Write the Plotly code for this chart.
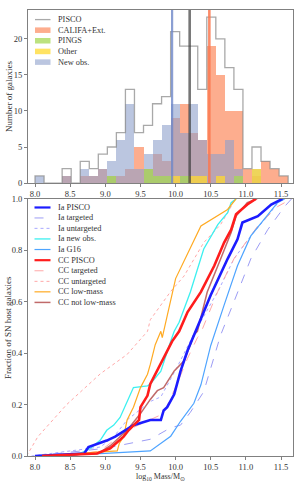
import plotly.graph_objects as go

# ---------------- data: top histogram ----------------
BIN_START = 8.0
BIN_WIDTH = 0.1286
pisco   = [1, 0, 0, 2, 0, 3, 2, 4, 5, 7, 13, 7, 8, 11, 12, 21, 19, 19, 13, 23, 20, 16, 13, 2, 5, 3, 2, 1]
califa  = [0, 0, 0, 1, 0, 1, 1, 2, 1, 1, 2, 5, 2, 4, 3, 9, 11, 7, 6, 19, 15, 10, 10, 2, 1, 3, 2, 1]
new_obs = [1, 0, 0, 1, 0, 2, 1, 2, 3, 6, 11, 2, 4, 6, 8, 11, 7, 11, 6, 4, 4, 6, 2, 0, 2, 0, 0, 0]
pings   = [0, 0, 0, 0, 0, 0, 0, 0, 1, 0, 0, 0, 2, 1, 1, 0, 1, 0, 0, 0, 0, 0, 1, 0, 0, 0, 0, 0]
other   = [0, 0, 0, 0, 0, 0, 0, 0, 0, 0, 0, 0, 0, 0, 0, 1, 0, 1, 1, 0, 1, 0, 0, 0, 2, 0, 0, 0]
median_new_obs = 9.95
median_pisco = 10.2
median_califa = 10.48

# ---------------- data: bottom cumulative curves ----------------
ia_pisco_x = [8.0, 8.7, 8.76, 8.93, 9.02, 9.14, 9.29, 9.40, 9.64, 9.79, 9.83, 9.88, 9.98, 10.07, 10.17, 10.29, 10.40, 10.5, 10.62, 10.74, 10.88, 10.95, 11.17, 11.36, 11.52]
ia_pisco_y = [0.0, 0.01, 0.035, 0.05, 0.06, 0.075, 0.1, 0.12, 0.14, 0.14, 0.177, 0.19, 0.24, 0.33, 0.41, 0.485, 0.56, 0.626, 0.70, 0.767, 0.843, 0.908, 0.933, 0.978, 1.0]
ia_targeted_x = [8.0, 9.0, 9.64, 9.93, 10.07, 10.21, 10.40, 10.64, 10.83, 11.07, 11.31, 11.55, 11.65]
ia_targeted_y = [0.0, 0.03, 0.065, 0.11, 0.12, 0.17, 0.25, 0.47, 0.6, 0.767, 0.88, 0.97, 1.0]
ia_untargeted_x = [7.95, 8.21, 8.93, 9.12, 9.31, 9.64, 9.79, 10.02, 10.27, 10.62, 10.83, 11.07, 11.31, 11.5]
ia_untargeted_y = [0.0, 0.01, 0.035, 0.075, 0.14, 0.212, 0.23, 0.345, 0.48, 0.65, 0.767, 0.856, 0.933, 1.0]
ia_new_x = [8.0, 8.6, 8.79, 8.93, 9.02, 9.12, 9.21, 9.31, 9.40, 9.6, 9.64, 9.79, 9.88, 9.93, 9.98, 10.05, 10.21, 10.40, 10.60, 10.74, 10.79, 10.86]
ia_new_y = [0.0, 0.005, 0.03, 0.062, 0.1, 0.12, 0.15, 0.215, 0.266, 0.273, 0.28, 0.33, 0.41, 0.446, 0.485, 0.52, 0.638, 0.805, 0.9, 0.946, 0.985, 1.0]
ia_g16_x = [8.0, 9.0, 9.64, 9.93, 10.07, 10.26, 10.36, 10.5, 10.69, 10.88, 11.07, 11.26, 11.45, 11.55]
ia_g16_y = [0.0, 0.01, 0.02, 0.077, 0.135, 0.205, 0.277, 0.43, 0.587, 0.74, 0.856, 0.92, 0.985, 1.0]
cc_pisco_x = [8.1, 8.88, 9.07, 9.26, 9.33, 9.40, 9.48, 9.50, 9.60, 9.64, 9.71, 9.79, 9.88, 9.95, 10.05, 10.17, 10.36, 10.55, 10.69, 10.79, 10.86, 11.02, 11.14]
cc_pisco_y = [0.0, 0.01, 0.03, 0.075, 0.1, 0.12, 0.14, 0.19, 0.235, 0.28, 0.318, 0.356, 0.408, 0.446, 0.485, 0.56, 0.638, 0.74, 0.83, 0.88, 0.94, 0.978, 1.0]
cc_targeted_x = [8.5, 8.93, 9.31, 9.64, 9.83, 10.02, 10.17, 10.31, 10.36, 10.6, 10.83, 11.17, 11.45, 11.65]
cc_targeted_y = [0.0, 0.02, 0.1, 0.14, 0.165, 0.28, 0.38, 0.46, 0.48, 0.64, 0.767, 0.895, 0.97, 1.0]
cc_untargeted_x = [7.88, 8.04, 8.45, 8.93, 9.31, 9.6, 9.64, 9.93, 10.12, 10.4, 10.64, 10.79, 10.83]
cc_untargeted_y = [0.0, 0.075, 0.2, 0.32, 0.395, 0.485, 0.53, 0.64, 0.70, 0.83, 0.9, 0.97, 1.0]
cc_low_x = [8.0, 9.17, 9.2, 9.26, 9.31, 9.40, 9.5, 9.6, 9.64, 9.71, 9.79, 9.81, 10.0, 10.36, 10.74, 10.86]
cc_low_y = [0.0, 0.02, 0.05, 0.075, 0.14, 0.19, 0.266, 0.318, 0.356, 0.433, 0.485, 0.46, 0.69, 0.895, 0.959, 1.0]
cc_notlow_x = [8.1, 8.9, 9.07, 9.31, 9.5, 9.64, 9.74, 9.83, 9.98, 10.12, 10.21, 10.26, 10.31, 10.45, 10.64, 10.79, 10.86, 11.02, 11.16]
cc_notlow_y = [0.0, 0.01, 0.04, 0.1, 0.165, 0.22, 0.254, 0.266, 0.331, 0.37, 0.433, 0.472, 0.485, 0.638, 0.766, 0.869, 0.933, 0.985, 1.0]

x_ticks = [8.0, 8.5, 9.0, 9.5, 10.0, 10.5, 11.0, 11.5]

# ---------------- figure ----------------
W, H = 299, 483
ML, MR, MT, MB = 28, 6, 5, 27
FONT = "Liberation Serif"
AXC = "#808080"

def px2paper_x(px):
    return (px - ML) / (W - ML - MR)

def py2paper_y(py):
    return (H - MB - py) / (H - MT - MB)

fig = go.Figure()

nb = len(pisco)
centers = [BIN_START + BIN_WIDTH * (k + 0.5) for k in range(nb)]
edges = [BIN_START + BIN_WIDTH * k for k in range(nb + 1)]

hist_series = [
    ("CALIFA+Ext.", califa, "rgba(252,141,98,0.72)"),
    ("New obs.", new_obs, "rgba(141,160,203,0.6)"),
    ("PINGS", pings, "rgba(166,216,84,0.75)"),
    ("Other", other, "rgba(255,217,47,0.75)"),
]
for name, vals, col in hist_series:
    fig.add_trace(go.Bar(x=centers, y=vals, width=BIN_WIDTH, marker=dict(color=col, line=dict(width=0)),
                         name=name, xaxis="x", yaxis="y", showlegend=False))

step_x = [edges[0]] + edges[:-1] + [edges[-1]]
step_y = [0] + pisco + [0]
fig.add_trace(go.Scatter(x=step_x, y=step_y, mode="lines", line=dict(color="rgba(140,140,140,0.75)", width=1.3, shape="hv"),
                         name="PISCO", xaxis="x", yaxis="y", showlegend=False))

for xm, col, w in [(median_new_obs, "rgba(110,135,200,0.8)", 2.2), (median_pisco, "rgba(60,60,60,0.7)", 2.6),
                   (median_califa, "rgba(250,120,80,0.85)", 2.6)]:
    fig.add_trace(go.Scatter(x=[xm, xm], y=[0, 24], mode="lines", line=dict(color=col, width=w),
                             xaxis="x", yaxis="y", showlegend=False, hoverinfo="skip"))

curves = [
    ("Ia PISCO", ia_pisco_x, ia_pisco_y, "#1c1cff", 2.6, "solid"),
    ("Ia targeted", ia_targeted_x, ia_targeted_y, "#9c9cf5", 1.0, "dash"),
    ("Ia untargeted", ia_untargeted_x, ia_untargeted_y, "#a8a8ff", 1.0, "dot"),
    ("Ia new obs.", ia_new_x, ia_new_y, "#3cf0f0", 1.3, "solid"),
    ("Ia G16", ia_g16_x, ia_g16_y, "#4ea4ff", 1.2, "solid"),
    ("CC PISCO", cc_pisco_x, cc_pisco_y, "#ff1c1c", 2.6, "solid"),
    ("CC targeted", cc_targeted_x, cc_targeted_y, "#ffa8a8", 1.0, "dash"),
    ("CC untargeted", cc_untargeted_x, cc_untargeted_y, "#ffa8a8", 1.0, "dot"),
    ("CC low-mass", cc_low_x, cc_low_y, "#ffaa22", 1.2, "solid"),
    ("CC not low-mass", cc_notlow_x, cc_notlow_y, "#c06a6a", 1.5, "solid"),
]
draw_order = [1, 2, 6, 7, 4, 3, 8, 9, 0, 5]
for i in draw_order:
    name, xs, ys, col, w, dash = curves[i]
    fig.add_trace(go.Scatter(x=xs, y=ys, mode="lines", line=dict(color=col, width=w, dash=dash),
                             name=name, xaxis="x2", yaxis="y2", showlegend=False))

# ---------------- manual legends ----------------
shapes = []
annotations = []
top_rows = [14.7, 25.4, 36.1, 46.9, 57.7]
top_items = [("PISCO", "line", "rgba(140,140,140,0.75)"),
             ("CALIFA+Ext.", "rect", "rgba(252,141,98,0.72)"),
             ("PINGS", "rect", "rgba(166,216,84,0.75)"),
             ("Other", "rect", "rgba(255,217,47,0.75)"),
             ("New obs.", "rect", "rgba(141,160,203,0.6)")]
for (label, kind, col), py in zip(top_items, top_rows):
    if kind == "line":
        shapes.append(dict(type="line", xref="paper", yref="paper", x0=px2paper_x(35), x1=px2paper_x(50.5),
                           y0=py2paper_y(py), y1=py2paper_y(py), line=dict(color=col, width=1.3)))
    else:
        shapes.append(dict(type="rect", xref="paper", yref="paper", x0=px2paper_x(35), x1=px2paper_x(50.5),
                           y0=py2paper_y(py + 2.8), y1=py2paper_y(py - 2.8), line=dict(width=0), fillcolor=col))
    annotations.append(dict(text=label, xref="paper", yref="paper", x=px2paper_x(56), y=py2paper_y(py),
                            xanchor="left", yanchor="middle", showarrow=False,
                            font=dict(family=FONT, size=8.3, color="#333")))
bot_rows = [204.7, 215.3, 225.8, 236.5, 247.2, 258.0, 268.7, 279.4, 290.0, 300.7]
for (name, xs, ys, col, w, dash), py in zip(curves, bot_rows):
    shapes.append(dict(type="line", xref="paper", yref="paper", x0=px2paper_x(34.5), x1=px2paper_x(50.5),
                       y0=py2paper_y(py), y1=py2paper_y(py), line=dict(color=col, width=min(w, 2.2), dash=dash)))
    annotations.append(dict(text=name, xref="paper", yref="paper", x=px2paper_x(56), y=py2paper_y(py),
                            xanchor="left", yanchor="middle", showarrow=False,
                            font=dict(family=FONT, size=8.3, color="#333")))

annotations.append(dict(text="Number of galaxies", xref="paper", yref="paper", x=px2paper_x(8.5), y=py2paper_y(92.5),
                        textangle=-90, showarrow=False, xanchor="center", yanchor="middle",
                        font=dict(family=FONT, size=9, color="#333")))
annotations.append(dict(text="Fraction of SN host galaxies", xref="paper", yref="paper", x=px2paper_x(8.5), y=py2paper_y(326),
                        textangle=-90, showarrow=False, xanchor="center", yanchor="middle",
                        font=dict(family=FONT, size=9, color="#333")))
annotations.append(dict(text="log<sub>10</sub> Mass/M<sub>⊙</sub>", xref="paper", yref="paper", x=px2paper_x(160.5), y=py2paper_y(470),
                        showarrow=False, xanchor="center", yanchor="top",
                        font=dict(family=FONT, size=8, color="#333")))

axis_common = dict(showline=True, linecolor=AXC, linewidth=1, mirror=True, ticks="outside", ticklen=3,
                   tickcolor=AXC, tickwidth=1, showgrid=False, zeroline=False,
                   tickfont=dict(family=FONT, size=8.5, color="#333"))
XR = [7.9, 11.67]
fig.update_layout(
    width=W, height=H, margin=dict(l=ML, r=MR, t=MT, b=MB),
    paper_bgcolor="white", plot_bgcolor="white", barmode="overlay", bargap=0,
    showlegend=False,
    xaxis=dict(domain=[0, 1], range=XR, anchor="y", tickvals=x_ticks, tickformat=".1f", **axis_common),
    yaxis=dict(domain=[py2paper_y(180), 1], range=[0, 24], anchor="x", tickvals=[0, 5, 10, 15, 20], **axis_common),
    xaxis2=dict(domain=[0, 1], range=XR, anchor="y2", tickvals=x_ticks, tickformat=".1f", **axis_common),
    yaxis2=dict(domain=[0, py2paper_y(196)], range=[0, 1], anchor="x2", tickvals=[0, 0.2, 0.4, 0.6, 0.8, 1.0],
                tickformat=".1f", **axis_common),
    shapes=shapes, annotations=annotations,
)

fig.write_html("out.html", config={"displayModeBar": False},
               post_script="document.body.style.margin='0';document.body.style.overflow='hidden';")
